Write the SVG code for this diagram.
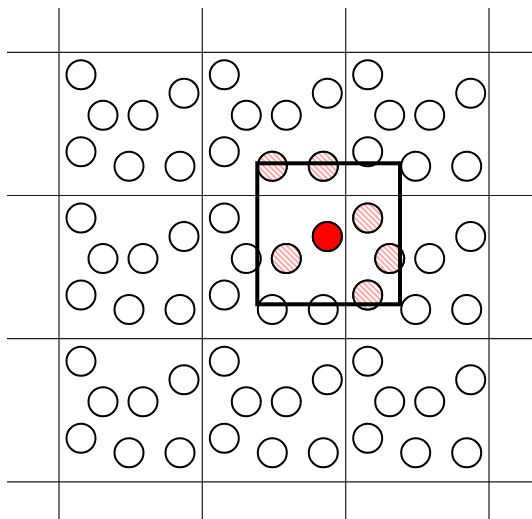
<svg xmlns="http://www.w3.org/2000/svg" xmlns:xlink="http://www.w3.org/1999/xlink" width="532" height="519" viewBox="0 0 532 519">
  <style>
    .grid { stroke: #1a1a1a; stroke-width: 1.2; fill: none; }
    .p { fill: #fff; stroke: #000; stroke-width: 2; }
    .h { fill: url(#hatch); stroke: #000; stroke-width: 2; }
    .box { fill: none; stroke: #000; stroke-width: 4; }
  </style>
  <defs>
    <pattern id="hatch" patternUnits="userSpaceOnUse" width="4" height="4" patternTransform="rotate(-45)">
      <rect width="4" height="4" fill="#fff"/>
      <line x1="1" y1="0" x2="1" y2="4" stroke="#f05a5a" stroke-width="1"/>
    </pattern>
    <g id="cell">
      <circle class="p" cx="22" cy="22.5" r="14.5"/>
      <circle class="p" cx="44" cy="63" r="14.5"/>
      <circle class="p" cx="84" cy="63" r="14.5"/>
      <circle class="p" cx="125" cy="41" r="14.5"/>
      <circle class="p" cx="22" cy="99.5" r="14.5"/>
      <circle class="p" cx="70" cy="114" r="14.5"/>
      <circle class="p" cx="121" cy="114" r="14.5"/>
    </g>
  </defs>
  <g id="grid">
    <line class="grid" x1="59" y1="8" x2="59" y2="519"/>
    <line class="grid" x1="202.3" y1="8" x2="202.3" y2="519"/>
    <line class="grid" x1="345.7" y1="8" x2="345.7" y2="519"/>
    <line class="grid" x1="489" y1="8" x2="489" y2="519"/>
    <line class="grid" x1="7" y1="52.3" x2="532" y2="52.3"/>
    <line class="grid" x1="7" y1="195.5" x2="532" y2="195.5"/>
    <line class="grid" x1="7" y1="338.7" x2="532" y2="338.7"/>
    <line class="grid" x1="7" y1="481.9" x2="532" y2="481.9"/>
  </g>
  <g id="cells">
    <use xlink:href="#cell" x="59" y="52.3"/>
    <use xlink:href="#cell" x="202.3" y="52.3"/>
    <use xlink:href="#cell" x="345.7" y="52.3"/>
    <use xlink:href="#cell" x="59" y="195.5"/>
    <use xlink:href="#cell" x="202.3" y="195.5"/>
    <use xlink:href="#cell" x="345.7" y="195.5"/>
    <use xlink:href="#cell" x="59" y="338.7"/>
    <use xlink:href="#cell" x="202.3" y="338.7"/>
    <use xlink:href="#cell" x="345.7" y="338.7"/>
  </g>
  <g id="neighbours">
    <circle class="h" cx="272.3" cy="166.3" r="14.5"/>
    <circle class="h" cx="323.3" cy="166.3" r="14.5"/>
    <circle class="h" cx="367.7" cy="218" r="14.5"/>
    <circle class="h" cx="389.7" cy="258.5" r="14.5"/>
    <circle class="h" cx="367.7" cy="295" r="14.5"/>
    <circle class="h" cx="286.3" cy="258.5" r="14.5"/>
  </g>
  <g id="center">
    <circle cx="327.3" cy="236.5" r="14.5" fill="#ff0000" stroke="#000" stroke-width="2"/>
  </g>
  <g id="cutoff-box">
    <rect class="box" x="257.3" y="163.3" width="142.7" height="141"/>
  </g>
</svg>
